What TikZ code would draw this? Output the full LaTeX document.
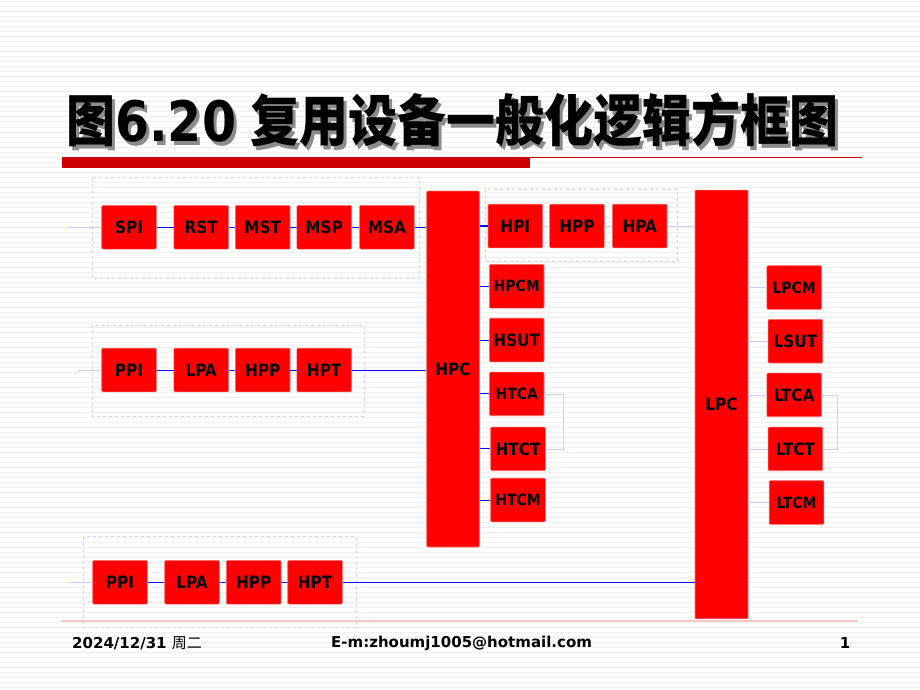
\documentclass[tikz,border=0pt]{standalone}
\usepackage{fontspec}
\newfontfamily\cjk{Noto Sans CJK SC}
\newfontfamily\lbl{DejaVu Sans Condensed}
\newfontfamily\dvs{DejaVu Sans}
\definecolor{titlered}{RGB}{204,0,0}
\definecolor{boxred}{RGB}{255,0,0}
\definecolor{boxedge}{RGB}{255,110,110}
\definecolor{linkblue}{RGB}{0,0,255}
\definecolor{faintblue}{RGB}{205,205,250}
\definecolor{framecol}{RGB}{215,215,245}
\definecolor{stripe}{RGB}{240,240,240}
\definecolor{pinkline}{RGB}{242,200,200}
\definecolor{shadowgray}{RGB}{140,140,140}
\newcommand{\titletext}{{\cjk\bfseries 图}{\dvs\bfseries 6.20} {\cjk\bfseries 复用设备一般化逻辑方框图}}
\tikzset{
  blk/.style={draw=boxedge, fill=boxred, line width=0.6pt, rounded corners=1pt,
    inner sep=0pt, minimum width=54.6pt, minimum height=43.6pt,
    font=\lbl\bfseries\fontsize{17}{17}\selectfont},
  blks/.style={blk, font=\lbl\bfseries\fontsize{15.5}{15.5}\selectfont},
  link/.style={draw=linkblue, line width=1pt},
  faint/.style={draw=faintblue, line width=0.8pt},
  grp/.style={draw=framecol, line width=0.8pt, dash pattern=on 3pt off 3pt},
  foot/.style={inner sep=0pt, font=\dvs\bfseries\fontsize{15}{15}\selectfont},
}
\begin{document}
\begin{tikzpicture}[x=1pt, y=-1pt]
\useasboundingbox (0,0) rectangle (920,690);
\fill[white] (0,0) rectangle (920,690);
\foreach \yy in {2,7,...,690} \draw[stripe, line width=1pt] (0,\yy) -- (920,\yy);

% title with shadow
\node[anchor=west, inner sep=0pt, text=black] (title) at (66,122)
  {\scalebox{1}[1.14]{\fontsize{49}{49}\selectfont
   \rlap{\hspace{3pt}\raisebox{-3pt}{\color{shadowgray}\titletext}}\titletext}};
\draw[titlered, line width=1pt] (62,157.5) -- (862,157.5);
\fill[titlered] (62,157) rectangle (530,168);

% group frames
\draw[grp] (92.3,177.7) rectangle (419.7,278.3);
\draw[grp] (485.7,189.3) rectangle (677.7,261);
\draw[grp] (92.3,325.3) rectangle (364.3,416.3);
\draw[grp] (83.3,536.7) rectangle (356,627.5);

% bottom pink line
\draw[pinkline, line width=2pt] (61,620.5) -- (858,620.5);

% big blocks
\node[blk, minimum width=52.6pt, minimum height=356pt] (HPC) at (453,369) {HPC};
\node[blk, minimum width=53pt, minimum height=428.7pt] (LPC) at (721.5,404.4) {LPC};

% top row
\node[blk] (SPI) at (129,227.3) {SPI};
\node[blk] (RST) at (201.2,227.3) {RST};
\node[blk] (MST) at (262.7,227.3) {MST};
\node[blk] (MSP) at (324.2,227.3) {MSP};
\node[blk] (MSA) at (386.9,227.3) {MSA};
\node[blk] (HPI) at (515.3,226) {HPI};
\node[blk] (HPPa) at (576.9,226) {HPP};
\node[blk] (HPA) at (639.7,226) {HPA};

% HPC branch
\node[blks] (HPCM) at (516.7,286.3) {HPCM};
\node[blk] (HSUT) at (516.7,340) {HSUT};
\node[blks] (HTCA) at (516.7,393.9) {HTCA};
\node[blk] (HTCT) at (518,448.9) {HTCT};
\node[blks] (HTCM) at (518,500) {HTCM};

% LPC branch
\node[blks] (LPCM) at (794.2,287.5) {LPCM};
\node[blk] (LSUT) at (795.4,341.2) {LSUT};
\node[blk] (LTCA) at (794.2,394.9) {LTCA};
\node[blk] (LTCT) at (795.4,448.9) {LTCT};
\node[blks] (LTCM) at (796.5,502.5) {LTCM};

% middle row
\node[blk] (PPIb) at (129,370) {PPI};
\node[blk] (LPAb) at (201.2,370) {LPA};
\node[blk] (HPPb) at (262.7,370) {HPP};
\node[blk] (HPTb) at (324.2,370) {HPT};

% bottom row
\node[blk] (PPIc) at (120,582.3) {PPI};
\node[blk] (LPAc) at (192,582.3) {LPA};
\node[blk] (HPPc) at (253.7,582.3) {HPP};
\node[blk] (HPTc) at (315,582.3) {HPT};

% free ends
\coordinate (inA) at (68,227.3);
\coordinate (inB) at (78,370);
\coordinate (inC) at (70,582.3);

% connectors top
\draw[faint] (inA) -- (SPI.west);
\draw[link] (SPI) -- (RST);
\draw[link] (RST) -- (MST);
\draw[link] (MST) -- (MSP);
\draw[link] (MSP) -- (MSA);
\draw[link] (MSA.east) -- (MSA.east -| HPC.west);
\draw[link, line width=1.3pt] (HPC.east |- HPI.west) -- (HPI.west);
\draw[faint] (HPI) -- (HPPa);
\draw[faint] (HPPa) -- (HPA);
\draw[faint] (HPA.east) -- (HPA.east -| LPC.west);

% HPC branch connectors
\foreach \n in {HPCM,HSUT,HTCA,HTCT,HTCM}
  \draw[link] (HPC.east |- \n.west) -- (\n.west);
\draw[faint] (HTCA.east) -- ++(18.7,0) |- (HTCT.east);

% LPC branch connectors
\foreach \n in {LPCM,LSUT,LTCA,LTCT,LTCM}
  \draw[faint] (LPC.east |- \n.west) -- (\n.west);
\draw[faint] (LTCA.east) -- ++(16,0) |- (LTCT.east);

% middle connectors
\draw[faint] (inB) -- (PPIb.west);
\draw[link] (PPIb) -- (LPAb);
\draw[link] (LPAb) -- (HPPb);
\draw[link] (HPPb) -- (HPTb);
\draw[link] (HPTb.east) -- (HPTb.east -| HPC.west);

% bottom connectors
\draw[faint] (inC) -- (PPIc.west);
\draw[link] (PPIc) -- (LPAc);
\draw[link] (LPAc) -- (HPPc);
\draw[link] (HPPc) -- (HPTc);
\draw[link] (HPTc.east) -- (HPTc.east -| LPC.west);

% footer
\node[foot, anchor=west] (date) at (72,643) {2024/12/31 {\cjk\mdseries 周二}};
\node[foot, anchor=west] (mail) at (331,643) {E-m:zhoumj1005@hotmail.com};
\node[foot] (page) at (845,643) {1};
\end{tikzpicture}
\end{document}
